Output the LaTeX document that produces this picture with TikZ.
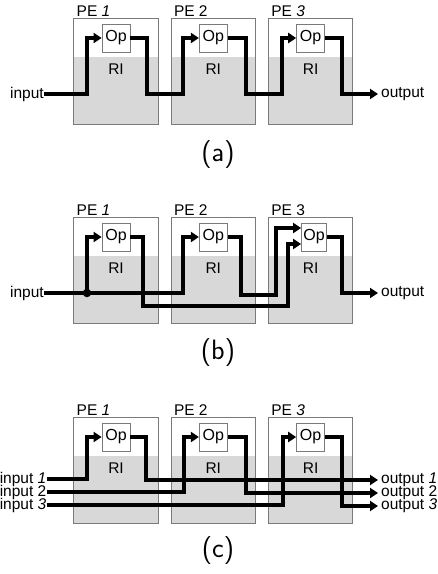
\documentclass[tikz,border=0pt]{standalone}
\usepackage{fontspec}
\setmainfont{Liberation Sans}
\usetikzlibrary{arrows.meta,calc}
\definecolor{rifill}{HTML}{D8D8D8}
\definecolor{pegray}{HTML}{7A7A7A}
\begin{document}
\begin{tikzpicture}[x=1pt,y=-1pt,
  pebox/.style={draw=none, fill=white, minimum width=84pt, minimum height=105pt, inner sep=0pt},
  opbox/.style={draw=pegray, line width=0.8pt, fill=white, minimum width=28pt, minimum height=28pt, inner sep=0pt, font=\fontsize{16}{19}\selectfont},
  lbl/.style={inner sep=0pt, font=\fontsize{15.5}{18}\selectfont},
  captext/.style={inner sep=0pt, font=\sffamily\fontsize{28}{32}\selectfont},
  wire/.style={line width=4pt, line join=miter},
  arr/.style={-{Triangle[length=8pt,width=10pt]}},
  dotn/.style={circle, fill=black, minimum size=8.5pt, inner sep=0pt}
]
\useasboundingbox (0,0) rectangle (438,574);
\fill[white] (0,0) rectangle (438,574);

% PE boxes with register (RI) area
\foreach \p/\o in {a/0,b/199,c/399}{
  \foreach \i/\L in {1/74,2/171.3,3/268.6}{
    \node[pebox] (pe\p\i) at (\L+42,\o+71.5) {};
    \fill[rifill] ([yshift=67pt]pe\p\i.south west) rectangle (pe\p\i.south east);
    \draw[pegray, line width=0.8pt] (pe\p\i.south west) rectangle (pe\p\i.north east);
    \node[lbl] (ri\p\i) at (\L+42,\o+69) {RI};
  }
}

% PE labels
\node[lbl, anchor=base west] (pla1) at (76.5,16) {PE \textit{1}};
\node[lbl, anchor=base west] (pla2) at (173.8,16) {PE 2};
\node[lbl, anchor=base west] (pla3) at (271.1,16) {PE \textit{3}};
\node[lbl, anchor=base west] (plb1) at (76.5,215) {PE \textit{1}};
\node[lbl, anchor=base west] (plb2) at (173.8,215) {PE 2};
\node[lbl, anchor=base west] (plb3) at (271.1,215) {PE 3};
\node[lbl, anchor=base west] (plc1) at (76.5,415) {PE \textit{1}};
\node[lbl, anchor=base west] (plc2) at (173.8,415) {PE 2};
\node[lbl, anchor=base west] (plc3) at (271.1,415) {PE \textit{3}};

% Op boxes
\node[opbox] (opa1) at (116,38) {Op};
\node[opbox] (opa2) at (213.3,38) {Op};
\node[opbox] (opa3) at (310.6,38) {Op};
\node[opbox] (opb1) at (116,237) {Op};
\node[opbox] (opb2) at (213.3,237) {Op};
\node[opbox, minimum width=25pt] (opb3) at (314,237) {Op};
\node[opbox] (opc1) at (116,437) {Op};
\node[opbox] (opc2) at (213.3,437) {Op};
\node[opbox] (opc3) at (310.6,437) {Op};

% I/O labels
\node[lbl, anchor=east] (ina) at (44,94) {input};
\node[lbl, anchor=west] (outa) at (381,94) {output};
\node[lbl, anchor=east] (inb) at (44,293) {input};
\node[lbl, anchor=west] (outb) at (381,293) {output};
\node[lbl, anchor=east] (inc1) at (46.5,479) {input \textit{1}};
\node[lbl, anchor=east] (inc2) at (46.5,492) {input 2};
\node[lbl, anchor=east] (inc3) at (46.5,505) {input \textit{3}};
\node[lbl, anchor=west] (outc1) at (381,480) {output \textit{1}};
\node[lbl, anchor=west] (outc2) at (381,493) {output 2};
\node[lbl, anchor=west] (outc3) at (381,506) {output \textit{3}};

% panel captions
\node[captext] (capa) at (218,155) {(a)};
\node[captext] (capb) at (218,353) {(b)};
\node[captext] (capc) at (218,551) {(c)};

% (a) wires
\draw[wire,arr] (ina.east) -- (87,94) |- (opa1.west);
\draw[wire,arr] (opa1.east) -| (146.7,94) -- (183,94) |- (opa2.west);
\draw[wire,arr] (opa2.east) -| (245.5,94) -- (281.6,94) |- (opa3.west);
\draw[wire,arr] (opa3.east) -| (341.6,94) -- ([xshift=-3pt]outa.west);

% (b) wires
\draw[wire,arr] (inb.east) -- (183.3,293) |- (opb2.west);
\node[dotn] (jb) at (87,293) {};
\draw[wire,arr] (jb.center) |- (opb1.west);
\draw[wire,arr] (opb1.east) -| (142.5,306) -- (288,306) |- ([yshift=-7pt]opb3.west);
\draw[wire,arr] (opb2.east) -| (241,295) -- (276,295) |- ([yshift=9pt]opb3.west);
\draw[wire,arr] (opb3.east) -| (341.6,293) -- ([xshift=-3pt]outb.west);

% (c) wires
\draw[wire,arr] (inc1.east) -- (87,479) |- (opc1.west);
\draw[wire,arr] (inc2.east) -- (184,492) |- (opc2.west);
\draw[wire,arr] (inc3.east) -- (282.6,505) |- (opc3.west);
\draw[wire,arr] (opc1.east) -| (145.7,480) -- ([xshift=-3pt]outc1.west);
\draw[wire,arr] (opc2.east) -| (245.7,493) -- ([xshift=-3pt]outc2.west);
\draw[wire,arr] (opc3.east) -| (341.6,506) -- ([xshift=-3pt]outc3.west);
\end{tikzpicture}
\end{document}
